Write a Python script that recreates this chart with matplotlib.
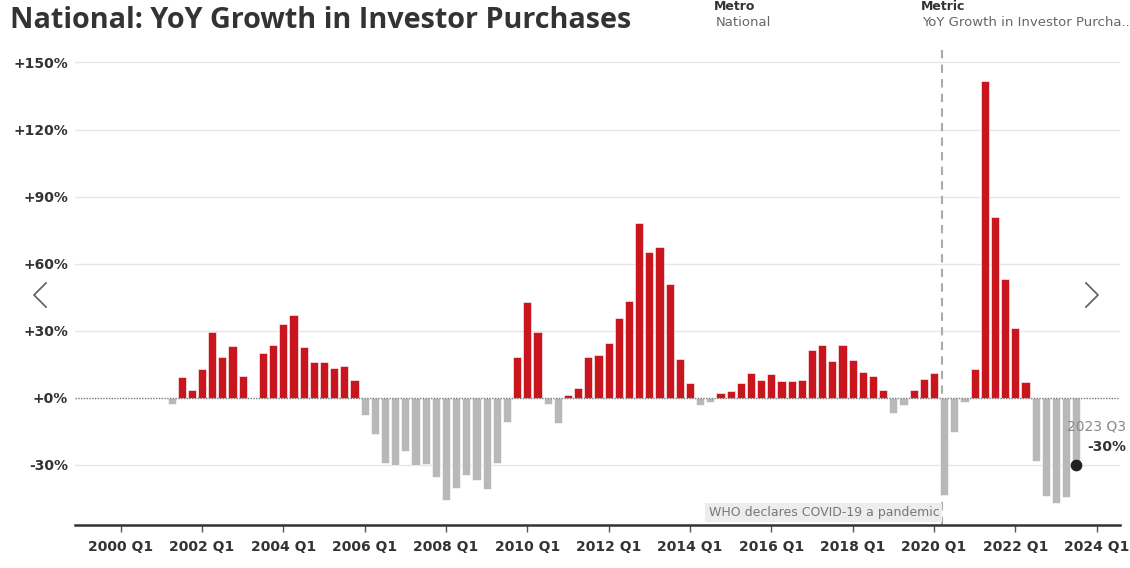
import matplotlib
matplotlib.use("Agg")
import matplotlib.pyplot as plt
from matplotlib.lines import Line2D

# ---- data ----
start_year, start_q = 2001, 2  # first bar: 2001 Q2
growth = [
    -3, 9.2, 3.2, 13, 29.5, 18, 23.2, 9.6, 0, 19.8,
    23.6, 32.8, 36.9, 22.6, 16, 16, 13.3, 14.3, 7.7, -7.8,
    -16.2, -29.4, -30.3, -24, -30.3, -29.7, -35.4, -45.7, -40.5, -34.8,
    -36.9, -41.1, -29.4, -11, 18.3, 42.6, 29.5, -3, -11.4, 1.3,
    4.4, 18, 19.2, 24.4, 35.5, 43.3, 78, 65.4, 67.4, 50.7,
    17.4, 6.4, -3.5, -2, 1.9, 2.8, 6.5, 11, 8.1, 10.6,
    7.4, 7.4, 7.8, 21.1, 23.6, 16.5, 23.6, 16.9, 11.5, 9.6,
    3.2, -6.8, -3.5, 3.2, 8.3, 11, -43.6, -15.4, -2.1, 12.7,
    141.8, 80.7, 52.9, 31.3, 7.1, -28.5, -44, -47.3, -44.6, -30,
]
tick_years = list(range(2000, 2025, 2))
tick_labels = [f"{y} Q1" for y in tick_years]
y_ticks = [-30, 0, 30, 60, 90, 120, 150]
covid_date = 2020 + 70 / 366
last_label = "2023 Q3"
last_value_label = "-30%"

# positions (quarter start as fractional year)
xs = [start_year + (start_q - 1 + i) / 4 for i in range(len(growth))]

RED = "#C9161E"
GRAY = "#B8B8B8"
TXT = "#333333"

W, H = 1130, 568
fig = plt.figure(figsize=(11.3, 5.68), dpi=100)
ax = fig.add_axes([75 / W, 43 / H, 1045 / W, (H - 58 - 43) / H])

colors = [RED if v > 0 else GRAY for v in growth]
ax.bar(xs, growth, width=0.2, color=colors, edgecolor="white", linewidth=0.4, zorder=3)

ax.set_xlim(2000 - 4.5 / 4, 2000 + 98.3 / 4)
ax.set_ylim(-57, 152)

# gridlines
for yv in y_ticks:
    if yv != 0:
        ax.axhline(yv, color="#E6E6E6", linewidth=1, zorder=1)
ax.axhline(0, color="#777777", linewidth=1, linestyle=(0, (1, 1)), zorder=4)

ax.set_yticks(y_ticks)
ax.set_yticklabels([("+" if v >= 0 else "") + f"{v}%" for v in y_ticks],
                   fontsize=10, fontweight="bold", color=TXT)
ax.tick_params(axis="y", length=0, pad=5)

ax.set_xticks(tick_years)
ax.set_xticklabels(tick_labels, fontsize=10, fontweight="bold", color=TXT)
ax.tick_params(axis="x", length=5, width=1, color="#555555", pad=6)

for s in ["top", "right", "left"]:
    ax.spines[s].set_visible(False)
ax.spines["bottom"].set_color("#333333")
ax.spines["bottom"].set_linewidth(1.8)

# covid line
ax.axvline(covid_date, color="#AAAAAA", linestyle=(0, (4, 3)), linewidth=1.5, zorder=2,
           ymin=0, ymax=1.03, clip_on=False)
ax.text(covid_date - 0.06, -51.5, "WHO declares COVID-19 a pandemic", ha="right", va="center",
        fontsize=9, color="#777777",
        bbox=dict(boxstyle="square,pad=0.25", facecolor="#EDEDED", edgecolor="none"))

# last point annotation
ax.scatter([xs[-1]], [growth[-1]], s=55, color="#222222", zorder=5)
ax.text(xs[-1] + 1.22, -13, last_label, ha="right", va="center", fontsize=10, color="#888888")
ax.text(xs[-1] + 1.22, -22, last_value_label, ha="right", va="center", fontsize=10,
        fontweight="bold", color="#333333")

# header
fig.text(10 / W, 1 - 21 / H, "National: YoY Growth in Investor Purchases",
         fontsize=20.7, fontweight="bold", color=TXT, va="center", ha="left", family="Open Sans")
fig.text(714 / W, 1 - 6 / H, "Metro", fontsize=9, fontweight="bold", color=TXT, va="center")
fig.text(716 / W, 1 - 23 / H, "National", fontsize=9.5, color="#666666", va="center")
fig.text(921 / W, 1 - 6 / H, "Metric", fontsize=9, fontweight="bold", color=TXT, va="center")
fig.text(922 / W, 1 - 23 / H, "YoY Growth in Investor Purcha..", fontsize=9.5, color="#666666",
         va="center")

# navigation chevrons
fig.add_artist(Line2D([46 / W, 34 / W, 46 / W], [1 - 283 / H, 1 - 295 / H, 1 - 307 / H],
                      color="#666666", linewidth=1.3))
fig.add_artist(Line2D([1086 / W, 1098 / W, 1086 / W], [1 - 283 / H, 1 - 295 / H, 1 - 307 / H],
                      color="#666666", linewidth=1.3))

fig.savefig("out.png", dpi=100)
